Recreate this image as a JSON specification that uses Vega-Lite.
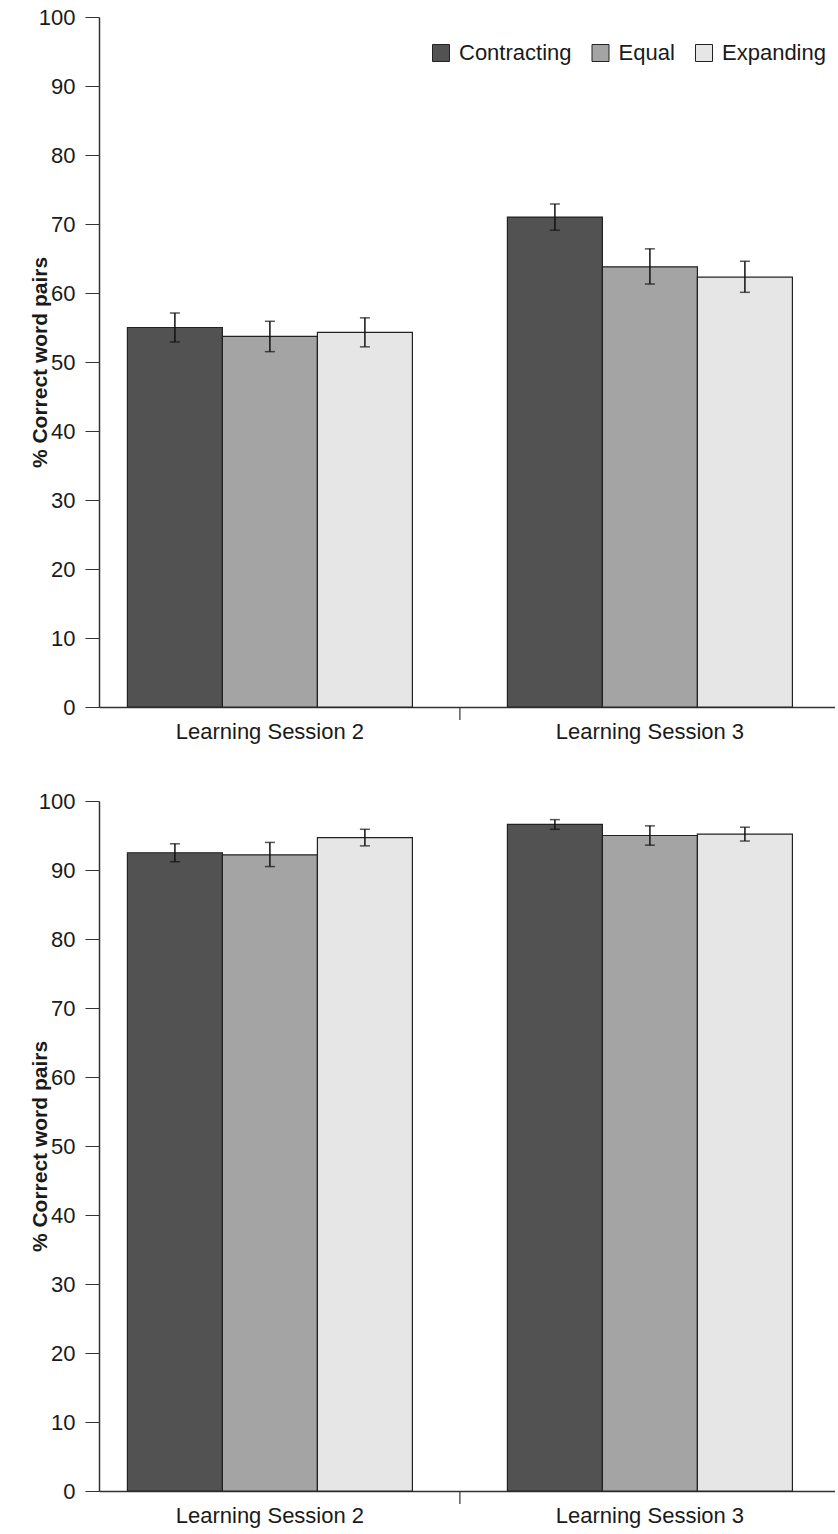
{
  "$schema": "https://vega.github.io/schema/vega-lite/v6.json",
  "padding": {"left": 29, "top": 6, "right": 0, "bottom": 6},
  "background": "white",
  "config": {
    "font": "Liberation Sans",
    "view": {"stroke": null},
    "axis": {
      "labelFont": "Liberation Sans",
      "labelFontSize": 22,
      "labelColor": "#1a1a1a",
      "labelLimit": 0,
      "domainColor": "#333333",
      "tickColor": "#333333",
      "grid": false,
      "titleFont": "Liberation Sans",
      "titleColor": "#1a1a1a"
    }
  },
  "data": {
    "values": [
      {"panel": "top", "session": "Learning Session 2", "condition": "Contracting", "mean": 55.0, "lo": 52.9, "hi": 57.1},
      {"panel": "top", "session": "Learning Session 2", "condition": "Equal", "mean": 53.7, "lo": 51.5, "hi": 55.9},
      {"panel": "top", "session": "Learning Session 2", "condition": "Expanding", "mean": 54.3, "lo": 52.2, "hi": 56.4},
      {"panel": "top", "session": "Learning Session 3", "condition": "Contracting", "mean": 71.0, "lo": 69.1, "hi": 72.9},
      {"panel": "top", "session": "Learning Session 3", "condition": "Equal", "mean": 63.8, "lo": 61.3, "hi": 66.4},
      {"panel": "top", "session": "Learning Session 3", "condition": "Expanding", "mean": 62.3, "lo": 60.1, "hi": 64.6},
      {"panel": "bottom", "session": "Learning Session 2", "condition": "Contracting", "mean": 92.5, "lo": 91.2, "hi": 93.8},
      {"panel": "bottom", "session": "Learning Session 2", "condition": "Equal", "mean": 92.2, "lo": 90.5, "hi": 94.0},
      {"panel": "bottom", "session": "Learning Session 2", "condition": "Expanding", "mean": 94.7, "lo": 93.5, "hi": 95.9},
      {"panel": "bottom", "session": "Learning Session 3", "condition": "Contracting", "mean": 96.6, "lo": 95.9, "hi": 97.3},
      {"panel": "bottom", "session": "Learning Session 3", "condition": "Equal", "mean": 95.0, "lo": 93.6, "hi": 96.4},
      {"panel": "bottom", "session": "Learning Session 3", "condition": "Expanding", "mean": 95.2, "lo": 94.2, "hi": 96.2}
    ]
  },
  "spacing": 48,
  "resolve": {"scale": {"color": "independent"}, "legend": {"color": "independent"}},
  "vconcat": [
    {
      "width": 736,
      "height": 690,
      "transform": [{"filter": "datum.panel === 'top'"}],
      "encoding": {
        "x": {
          "field": "session", "type": "nominal",
          "sort": ["Learning Session 2", "Learning Session 3"],
          "scale": {"paddingInner": 0.25, "paddingOuter": 0.0934, "align": 0.4},
          "axis": {"title": null, "labelAngle": 0, "ticks": false, "labelPadding": 14, "domainWidth": 1.5}
        }
      },
      "layer": [
        {
          "mark": {"type": "bar", "stroke": "#222222", "strokeWidth": 1.2},
          "encoding": {
            "xOffset": {"field": "condition", "type": "nominal", "sort": ["Contracting", "Equal", "Expanding"], "scale": {"paddingInner": 0, "paddingOuter": 0}},
            "y": {
              "field": "mean", "type": "quantitative",
              "scale": {"domain": [0, 100]},
              "axis": {
                "title": "% Correct word pairs",
                "values": [0, 10, 20, 30, 40, 50, 60, 70, 80, 90, 100],
                "tickSize": 14, "labelPadding": 10, "domainWidth": 1.5,
                "titleFontSize": 21, "titleFontWeight": "bold", "titlePadding": -12
              }
            },
            "color": {
              "field": "condition", "type": "nominal",
              "sort": ["Contracting", "Equal", "Expanding"],
              "scale": {"domain": ["Contracting", "Equal", "Expanding"], "range": ["#525252", "#a3a4a3", "#e6e6e6"]},
              "legend": {
                "orient": "none", "legendX": 331, "legendY": 25, "direction": "horizontal",
                "title": null, "symbolType": "square", "symbolSize": 289,
                "symbolStrokeColor": "#222222", "symbolStrokeWidth": 1,
                "labelFontSize": 22, "labelOffset": 7, "columnPadding": 17.5,
                "labelColor": "#1a1a1a", "labelFont": "Liberation Sans", "labelLimit": 0
              }
            }
          }
        },
        {
          "mark": {"type": "rule", "color": "#111111", "strokeWidth": 1.5},
          "encoding": {
            "xOffset": {"field": "condition", "type": "nominal", "sort": ["Contracting", "Equal", "Expanding"]},
            "y": {"field": "lo", "type": "quantitative"},
            "y2": {"field": "hi"}
          }
        },
        {
          "mark": {"type": "tick", "color": "#111111", "thickness": 1.5, "size": 10, "orient": "horizontal"},
          "encoding": {
            "xOffset": {"field": "condition", "type": "nominal", "sort": ["Contracting", "Equal", "Expanding"]},
            "y": {"field": "lo", "type": "quantitative"}
          }
        },
        {
          "mark": {"type": "tick", "color": "#111111", "thickness": 1.5, "size": 10, "orient": "horizontal"},
          "encoding": {
            "xOffset": {"field": "condition", "type": "nominal", "sort": ["Contracting", "Equal", "Expanding"]},
            "y": {"field": "hi", "type": "quantitative"}
          }
        },
        {
          "transform": [{"filter": "datum.condition === 'Contracting' && datum.session === 'Learning Session 3'"}],
          "mark": {"type": "rule", "color": "#333333", "strokeWidth": 1.2},
          "encoding": {
            "x": {"field": "session", "type": "nominal", "bandPosition": -0.1667},
            "y": {"datum": 0, "type": "quantitative"},
            "y2": {"datum": -1.9}
          }
        }
      ]
    },
    {
      "width": 736,
      "height": 690,
      "transform": [{"filter": "datum.panel === 'bottom'"}],
      "encoding": {
        "x": {
          "field": "session", "type": "nominal",
          "sort": ["Learning Session 2", "Learning Session 3"],
          "scale": {"paddingInner": 0.25, "paddingOuter": 0.0934, "align": 0.4},
          "axis": {"title": null, "labelAngle": 0, "ticks": false, "labelPadding": 14, "domainWidth": 1.5}
        }
      },
      "layer": [
        {
          "mark": {"type": "bar", "stroke": "#222222", "strokeWidth": 1.2},
          "encoding": {
            "xOffset": {"field": "condition", "type": "nominal", "sort": ["Contracting", "Equal", "Expanding"], "scale": {"paddingInner": 0, "paddingOuter": 0}},
            "y": {
              "field": "mean", "type": "quantitative",
              "scale": {"domain": [0, 100]},
              "axis": {
                "title": "% Correct word pairs",
                "values": [0, 10, 20, 30, 40, 50, 60, 70, 80, 90, 100],
                "tickSize": 14, "labelPadding": 10, "domainWidth": 1.5,
                "titleFontSize": 21, "titleFontWeight": "bold", "titlePadding": -12
              }
            },
            "color": {
              "field": "condition", "type": "nominal",
              "scale": {"domain": ["Contracting", "Equal", "Expanding"], "range": ["#525252", "#a3a4a3", "#e6e6e6"]},
              "legend": null
            }
          }
        },
        {
          "mark": {"type": "rule", "color": "#111111", "strokeWidth": 1.5},
          "encoding": {
            "xOffset": {"field": "condition", "type": "nominal", "sort": ["Contracting", "Equal", "Expanding"]},
            "y": {"field": "lo", "type": "quantitative"},
            "y2": {"field": "hi"}
          }
        },
        {
          "mark": {"type": "tick", "color": "#111111", "thickness": 1.5, "size": 10, "orient": "horizontal"},
          "encoding": {
            "xOffset": {"field": "condition", "type": "nominal", "sort": ["Contracting", "Equal", "Expanding"]},
            "y": {"field": "lo", "type": "quantitative"}
          }
        },
        {
          "mark": {"type": "tick", "color": "#111111", "thickness": 1.5, "size": 10, "orient": "horizontal"},
          "encoding": {
            "xOffset": {"field": "condition", "type": "nominal", "sort": ["Contracting", "Equal", "Expanding"]},
            "y": {"field": "hi", "type": "quantitative"}
          }
        },
        {
          "transform": [{"filter": "datum.condition === 'Contracting' && datum.session === 'Learning Session 3'"}],
          "mark": {"type": "rule", "color": "#333333", "strokeWidth": 1.2},
          "encoding": {
            "x": {"field": "session", "type": "nominal", "bandPosition": -0.1667},
            "y": {"datum": 0, "type": "quantitative"},
            "y2": {"datum": -1.9}
          }
        }
      ]
    }
  ]
}
